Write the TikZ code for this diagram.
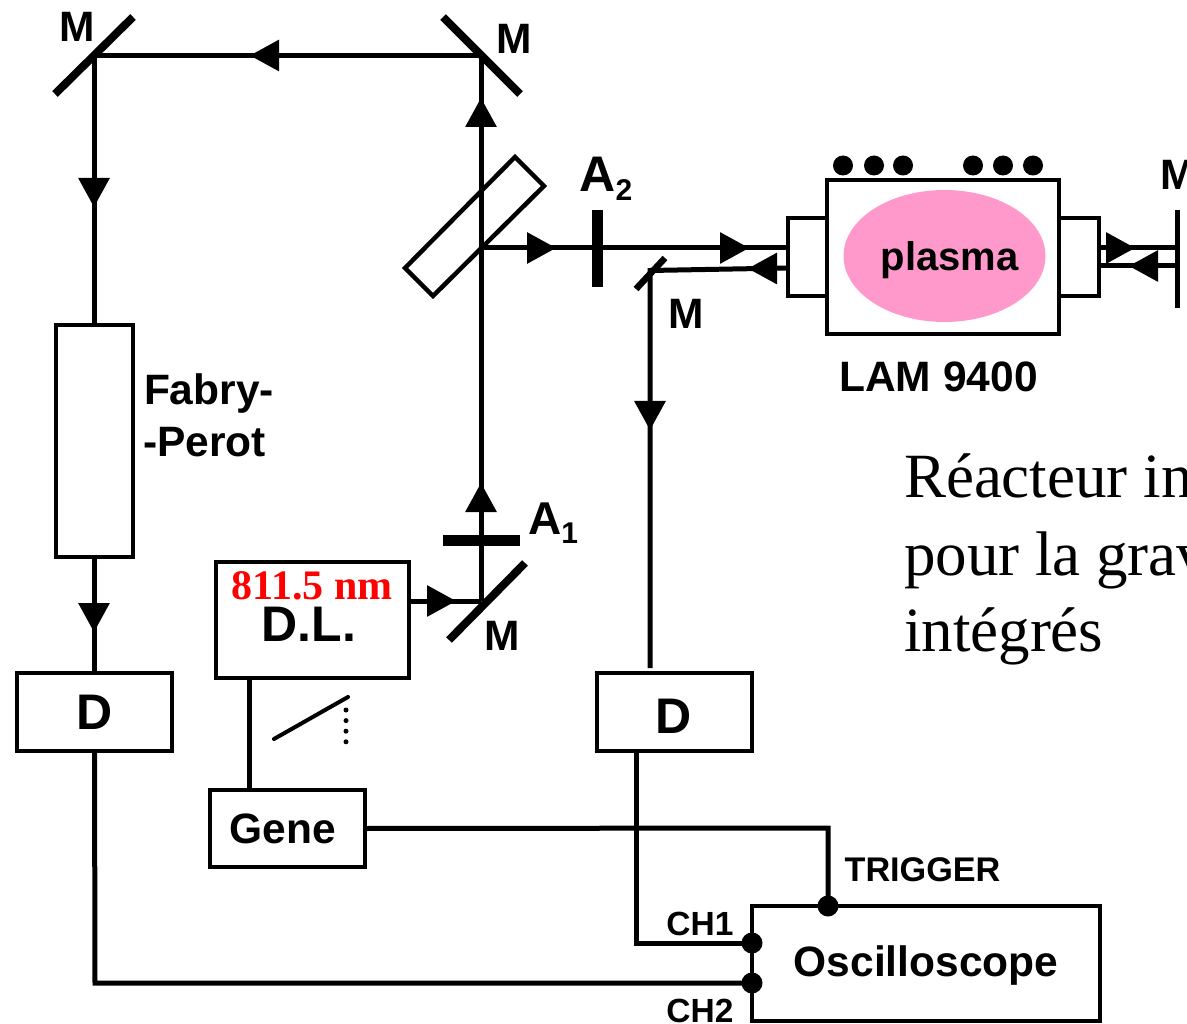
\documentclass[tikz,border=0pt]{standalone}
\usepackage{fontspec}
\setmainfont{Liberation Sans}
\newfontfamily\serifface{Liberation Serif}
\usetikzlibrary{arrows.meta,calc,shapes.geometric}
\definecolor{plasmapink}{HTML}{FF99CC}
\tikzset{
  beam/.style={line width=5pt,line cap=butt,line join=miter},
  tipped/.style={line width=3pt,-{Triangle[length=29pt,width=31pt]}},
  mirror/.style={line width=8pt},
  thinmirror/.style={line width=6.5pt},
  atten/.style={line width=11.5pt},
  box/.style={draw,line width=4.5pt,inner sep=0pt,outer sep=0pt,fill=white},
  lab/.style={inner sep=0pt,outer sep=0pt,font=\bfseries\fontsize{42.5}{42.5}\selectfont},
  biglab/.style={inner sep=0pt,outer sep=0pt,font=\bfseries\fontsize{50}{50}\selectfont},
  smalllab/.style={inner sep=0pt,outer sep=0pt,font=\bfseries\fontsize{33.5}{33.5}\selectfont},
  big/.style={inner sep=0pt,outer sep=0pt,anchor=base west,font=\serifface\fontsize{63}{63}\selectfont},
  dot/.style={circle,fill=black,inner sep=0pt,minimum size=#1,outer sep=0pt}
}
\newcommand{\subtwo}[1]{\raisebox{-9pt}{\fontsize{30}{30}\selectfont #1}}
\begin{document}
\begin{tikzpicture}[x=1pt,y=-1pt]
\useasboundingbox (0,0) rectangle (1187,1024);
\clip (0,0) rectangle (1187,1024);

% junctions
\coordinate (m1) at (94,55.5);
\coordinate (m2) at (481,55.5);
\coordinate (bs) at (481,248);
\coordinate (m3) at (481,601);
\coordinate (m4) at (650,270.5);
\coordinate (t1) at (828,828);
\coordinate (mr1) at (1177,248);
\coordinate (mr2) at (1177,266);
\coordinate (dend) at (650,668);

% boxes
\node[box,minimum width=77pt,minimum height=232pt] (fp) at (94.5,441) {};
\node[box,minimum width=155pt,minimum height=78pt] (d1) at (94.5,712) {};
\node[box,minimum width=155pt,minimum height=78pt] (d2) at (674.5,712) {};
\node[box,minimum width=193pt,minimum height=116pt] (dl) at (312.5,620) {};
\node[box,minimum width=155pt,minimum height=77pt] (gene) at (287.5,828.5) {};
\node[box,minimum width=348pt,minimum height=115pt] (osc) at (926,963.5) {};
\node[box,minimum width=232pt,minimum height=154pt] (reac) at (943,257) {};
\node[box,minimum width=39pt,minimum height=78pt] (wl) at (807.5,257) {};
\node[box,minimum width=40pt,minimum height=78pt] (wr) at (1079,257) {};
\node[fill=plasmapink,ellipse,inner sep=0pt,outer sep=0pt,minimum width=202pt,minimum height=132pt] (pl) at (944.5,256) {};

% beam splitter
\draw[line width=4.5pt,fill=white,line join=miter] (515,157) -- (544,186) -- (433,296) -- (405,268) -- cycle;

% beams
\draw[beam] (m2) -- (m1) -- (fp.north -| m1);
\draw[beam] (fp.south -| m1) -- (d1.north -| m1);
\draw[beam] (dl.east |- m3) -- (m3);
\draw[beam] (m3) -- (m2);
\draw[beam] (bs) -- (wl.west |- bs);
\draw[beam] (wl.west |- 0,268) -- (m4) -- (dend);
\draw[beam] (wr.east |- mr1) -- (mr1);
\draw[beam] (wr.east |- mr2) -- (mr2);

% arrowheads
\draw[tipped] (280,55.5) -- (250,55.5);
\draw[tipped] (94,178) -- (94,207);
\draw[tipped] (94,603) -- (94,632);
\draw[tipped] (427,601) -- (456,601);
\draw[tipped] (481,512) -- (481,483);
\draw[tipped] (481,127) -- (481,98);
\draw[tipped] (527,248) -- (556,248);
\draw[tipped] (720,248) -- (749,248);
\draw[tipped] (777,268.5) -- (748,268.5);
\draw[tipped] (650,401) -- (650,430);
\draw[tipped] (1106,248) -- (1135,248);
\draw[tipped] (1158,266) -- (1129,266);

% electric connections
\draw[beam] (d1.south) -- (95,983) -- (osc.west |- 0,983);
\draw[beam] (d2.south -| 636,0) -- (636,943) -- (osc.west |- 0,943);
\draw[beam] (dl.south -| 249,0) -- (gene.north -| 249,0);
\draw[beam] (gene.east) -- (t1) -- (osc.north -| t1);

% ramp
\draw[line width=4pt,line cap=round] (274,739) -- (348,697);
\draw[line width=5pt,line cap=round,dash pattern=on 0pt off 10.6pt] (346,710) -- (346,742);

% optics
\draw[mirror] (55,94) -- (133,17);
\draw[mirror] (443,17) -- (520,94);
\draw[mirror] (449,640) -- (525,563);
\draw[thinmirror] (636,289) -- (665,258);
\draw[line width=5pt] (1177,210) -- (1177,308);
\draw[atten] (443,540.5) -- (520,540.5);
\draw[atten] (597.5,210) -- (597.5,287);

% dots
\foreach \n/\x in {c1/843,c2/874,c3/903,c4/973,c5/1003,c6/1033}
  \node[dot=20pt] (\n) at (\x,165.5) {};
\node[dot=21pt] (ptr) at (osc.north -| t1) {};
\node[dot=21pt] (pc1) at (osc.west |- 0,943) {};
\node[dot=21pt] (pc2) at (osc.west |- 0,983) {};

% labels
\node[lab] (lm1) at (77,27) {M};
\node[lab] (lm2) at (514,39) {M};
\node[lab,anchor=west] (lm3) at (1160,175) {M};
\node[lab] (lm4) at (686,314) {M};
\node[lab] (lm5) at (502,636) {M};
\node[biglab] (la2) at (606,179) {A\subtwo{2}};
\node[biglab,font=\bfseries\fontsize{46}{46}\selectfont] (la1) at (553,523) {A\subtwo{1}};
\node[lab,anchor=west] (lf1) at (144,394) {Fabry-};
\node[lab,anchor=west] (lf2) at (143,442) {-Perot};
\node[biglab] (ld1) at (95,712) {D};
\node[biglab] (ld2) at (674,716) {D};
\node[biglab] (ldl) at (309,624) {D.L.};
\node[inner sep=0pt,text=red,font=\serifface\bfseries\fontsize{42}{42}\selectfont] (lnm) at (312,586) {811.5 nm};
\node[lab] (lg) at (283,829) {Gene};
\node[inner sep=0pt,font=\bfseries\fontsize{40}{40}\selectfont] (lp) at (949.5,260) {plasma};
\node[lab] (llam) at (938.5,377) {LAM 9400};
\node[lab] (lo) at (926,966) {Oscilloscope};
\node[inner sep=0pt,font=\bfseries\fontsize{34.2}{34.2}\selectfont] (ltr) at (922.5,870) {TRIGGER};
\node[smalllab] (lc1) at (700,924) {CH1};
\node[smalllab] (lc2) at (700,1011) {CH2};
\node[big] (r1) at (904,497) {Réacteur in};
\node[big] (r2) at (904,575) {pour la grav};
\node[big] (r3) at (904,651) {intégrés};
\end{tikzpicture}
\end{document}
